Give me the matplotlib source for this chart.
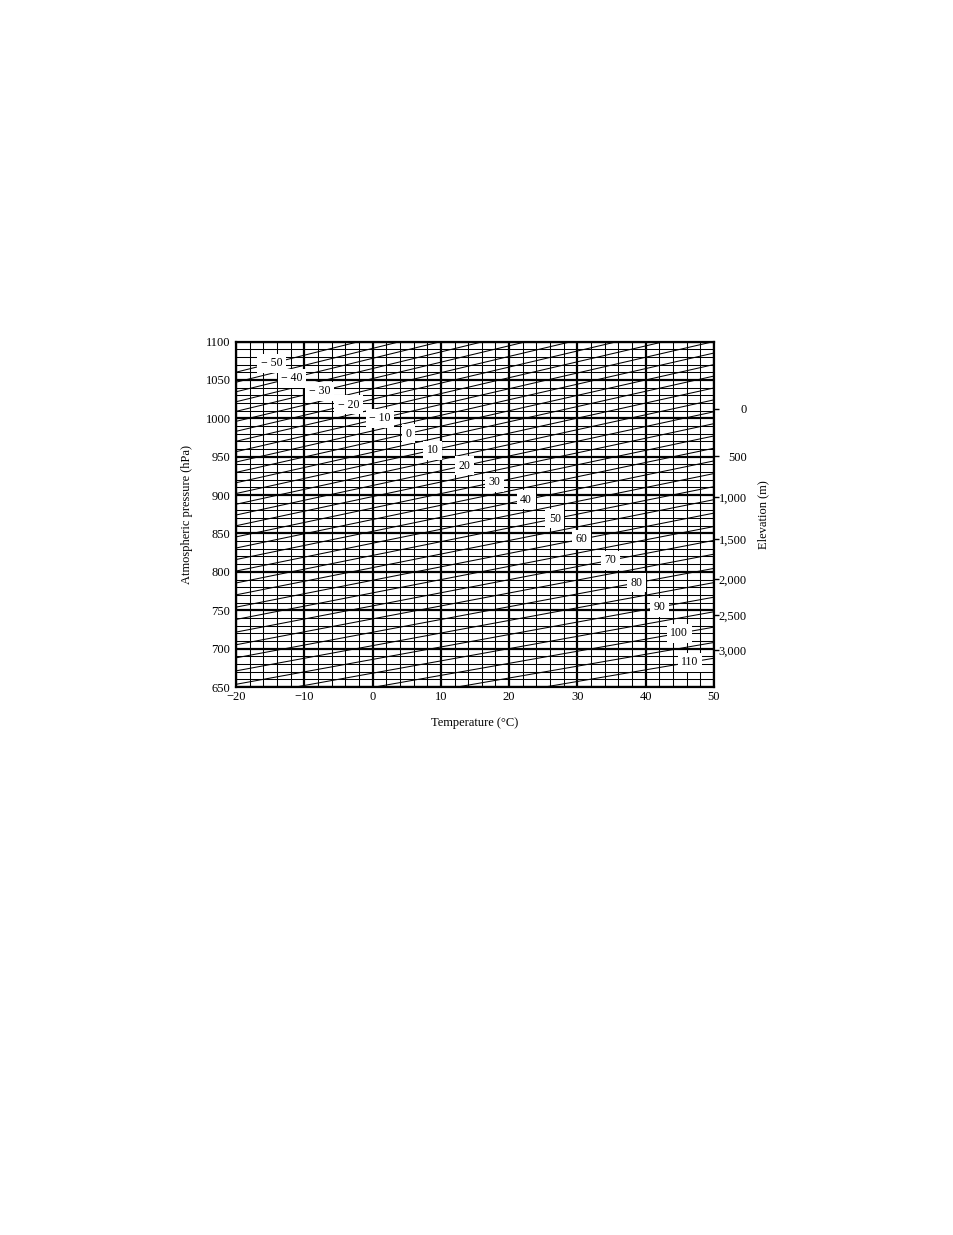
import matplotlib
matplotlib.use('Agg')
import matplotlib.pyplot as plt
import numpy as np

plt.rcParams['font.family'] = ['Liberation Serif', 'DejaVu Serif']
plt.rcParams.update({'font.size': 9})

# axis ranges / ticks
temp_ticks = [-20, -10, 0, 10, 20, 30, 40, 50]
pres_ticks = [650, 700, 750, 800, 850, 900, 950, 1000, 1050, 1100]

# elevation scale on the right (pressure where each tick sits)
elev_labels = ['0', '500', '1,000', '1,500', '2,000', '2,500', '3,000']
elev_pres = [1012.5, 950.6, 897.5, 842.9, 791.0, 743.2, 697.8]

# slanted lines: value, pressure at -20 degC and at 50 degC
line_values = [-50, -45, -40, -35, -30, -25, -20, -15, -10, -5, 0, 5, 10, 15,
               20, 25, 30, 35, 40, 45, 50, 55, 60, 65, 70, 75, 80, 85, 90, 95,
               100, 105, 110]
p_left = [1060, 1047, 1034.5, 1021.5, 1009, 996, 983, 970, 956.5, 943, 929.5,
          916, 902, 888, 874, 860, 845.5, 831, 816, 801, 785.5, 770, 754, 738,
          721.5, 705, 688, 671, 653.5, 636, 618, 600, 581.5]
p_right = [1215, 1201, 1187, 1173, 1158.5, 1144, 1129.5, 1115, 1100, 1085,
           1070, 1055, 1039.5, 1024, 1008.5, 993, 977, 961, 944.5, 928, 911,
           894, 876.5, 859, 841, 823, 804.5, 786, 767, 748, 728, 708, 687.5]

# labelled lines and the temperature where each label sits
label_values = [-50, -40, -30, -20, -10, 0, 10, 20, 30, 40, 50, 60, 70, 80,
                90, 100, 110]
label_temps = [-14.8, -11.8, -7.8, -3.5, 1.1, 5.2, 8.8, 13.4, 17.9, 22.5,
               26.7, 30.6, 34.8, 38.7, 42.0, 44.9, 46.5]

fig = plt.figure(figsize=(9.54, 12.35), dpi=100)
ax = fig.add_axes([236 / 954, 1 - 687 / 1235, 478 / 954, 345.5 / 1235])

ax.set_xlim(-20, 50)
ax.set_ylim(650, 1100)
ax.set_xticks(temp_ticks)
ax.set_xticks(np.arange(-20, 51, 2), minor=True)
ax.set_yticks(pres_ticks)
ax.set_yticks(np.arange(650, 1101, 10), minor=True)
ax.grid(which='major', color='black', lw=1.6)
ax.grid(which='minor', color='black', lw=0.75)
ax.tick_params(which='both', length=0)
ax.tick_params(axis='y', pad=4)
ax.tick_params(axis='x', pad=3)
for s in ax.spines.values():
    s.set_linewidth(1.6)

for v, pl, pr in zip(line_values, p_left, p_right):
    ax.plot([-20, 50], [pl, pr], color='black', lw=0.75, zorder=2)

for v, t in zip(label_values, label_temps):
    i = line_values.index(v)
    p = np.interp(t, [-20, 50], [p_left[i], p_right[i]])
    txt = '\u2212 %d' % abs(v) if v < 0 else '%d' % v
    ax.text(t, p, txt, ha='center', va='center', fontsize=8.5, zorder=5,
            bbox=dict(boxstyle='square,pad=0.3', fc='white', ec='none'))

ax.set_xlabel('Temperature (°C)', labelpad=10)
ax.set_ylabel('Atmospheric pressure (hPa)', labelpad=9)

ax2 = ax.twinx()
ax2.set_ylim(650, 1100)
ax2.set_yticks(elev_pres)
ax2.set_yticklabels(elev_labels)
ax2.tick_params(axis='y', direction='out', length=3.5, width=1, pad=20)
for lab in ax2.get_yticklabels():
    lab.set_horizontalalignment('right')
for s in ax2.spines.values():
    s.set_visible(False)
ax2.set_ylabel('Elevation (m)', labelpad=8)

plt.savefig('out.png', dpi=100)
